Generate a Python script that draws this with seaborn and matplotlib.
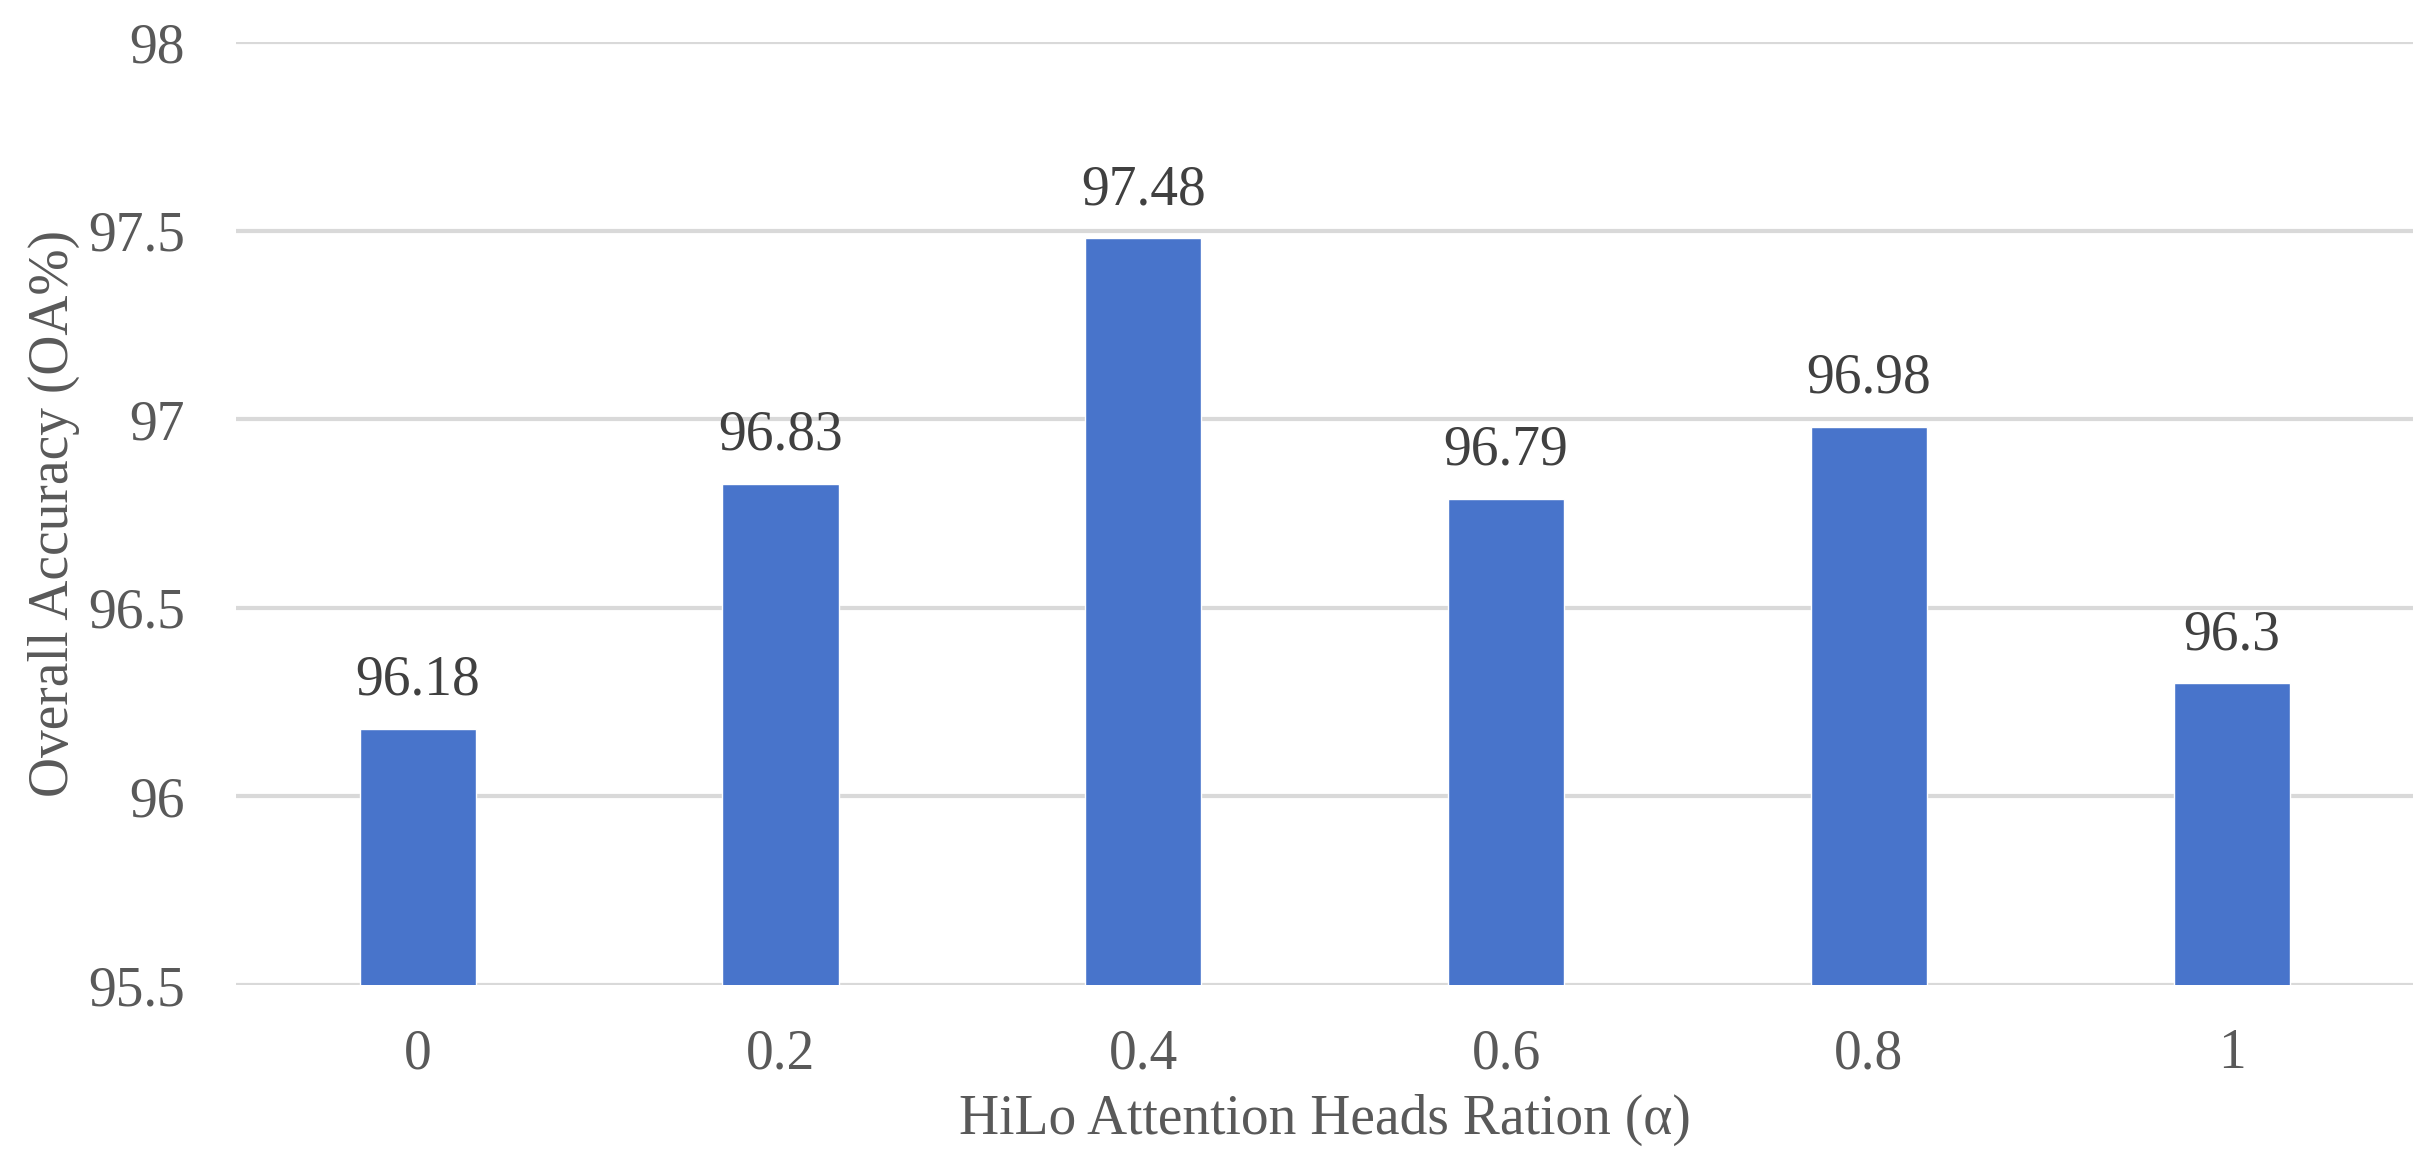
import numpy as np
import pandas as pd
import matplotlib.pyplot as plt
import seaborn as sns

# data
ratios = ["0", "0.2", "0.4", "0.6", "0.8", "1"]
accuracy = [96.18, 96.83, 97.48, 96.79, 96.98, 96.3]

df = pd.DataFrame({"ratio": ratios, "oa": accuracy})

sns.set_style("white")
plt.rcParams['font.family'] = ['Liberation Serif', 'DejaVu Serif']

fig = plt.figure(figsize=(24.36, 11.76), dpi=100)
ax = fig.add_axes([0.097, 0.1624, 0.8936, 0.8016])

sns.barplot(x="ratio", y="oa", data=df, order=ratios, color="#4874CB",
            width=0.32, saturation=1, ax=ax, zorder=3)

ax.set_ylim(95.5, 98)
ax.set_yticks([95.5, 96, 96.5, 97, 97.5, 98])
ax.set_yticklabels(["95.5", "96", "96.5", "97", "97.5", "98"])
ax.yaxis.grid(True, color="#D9D9D9", linewidth=3, zorder=0)
ax.set_axisbelow(True)
for s in ax.spines.values():
    s.set_visible(False)

ax.tick_params(axis="both", length=0, labelsize=40, colors="#595959")
ax.tick_params(axis="x", pad=31)
ax.tick_params(axis="y", pad=37)

ax.bar_label(ax.containers[0], fmt="%g", padding=16, fontsize=40, color="#404040")

ax.set_xlabel("HiLo Attention Heads Ration (α)", fontsize=40, color="#595959", labelpad=10)
ax.set_ylabel("Overall Accuracy (OA%)", fontsize=40, color="#595959")
ax.yaxis.set_label_coords(-0.072, 0.5)

fig.savefig("out.png", dpi=100)
